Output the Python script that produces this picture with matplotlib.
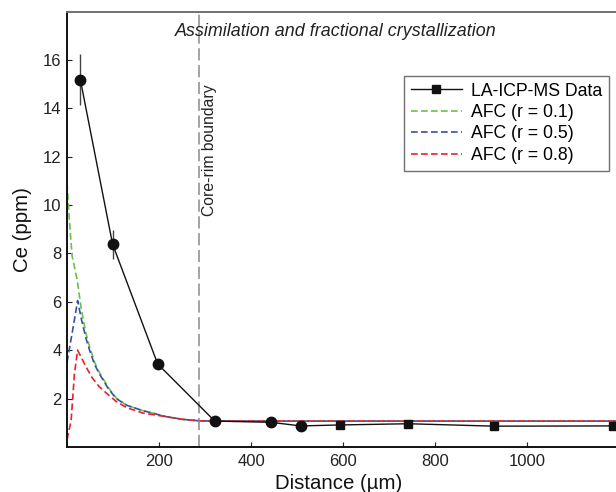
import matplotlib
matplotlib.use("Agg")
import matplotlib.pyplot as plt
from matplotlib.lines import Line2D

plt.rcParams['font.family'] = ['Liberation Sans', 'DejaVu Sans']

# LA-ICP-MS profile: core points (circles) and rim points (squares)
core_dist = [29, 99, 197, 321, 443, 508]
core_ce = [15.17, 8.38, 3.43, 1.07, 1.02, 0.87]
core_err = [1.05, 0.6, 0.0, 0.0, 0.0, 0.0]
rim_dist = [593, 742, 928, 1186]
rim_ce = [0.91, 0.96, 0.86, 0.87]

# AFC model curves
afc_dist = [0, 5, 11, 22, 31, 41, 49, 60, 71, 90, 107, 130, 165, 216, 252, 288, 320, 1200]
afc_r01 = [10.9, 9.4, 7.9, 6.9, 5.7, 4.7, 4.14, 3.5, 3.05, 2.45, 2.02, 1.72, 1.5, 1.25, 1.14, 1.08, 1.07, 1.07]
afc_dist_b = [0, 12, 23, 31, 41, 49, 60, 71, 90, 107, 130, 165, 216, 252, 288, 320, 1200]
afc_r05 = [3.5, 4.8, 6.05, 5.3, 4.5, 4.0, 3.4, 3.0, 2.4, 2.0, 1.72, 1.5, 1.25, 1.14, 1.08, 1.07, 1.07]
afc_dist_r = [0, 9, 16, 23, 31, 41, 55, 70, 90, 107, 130, 165, 216, 252, 288, 320, 1200]
afc_r08 = [0.3, 1.1, 3.0, 4.0, 3.7, 3.32, 2.85, 2.49, 2.15, 1.88, 1.62, 1.4, 1.25, 1.14, 1.08, 1.07, 1.07]

boundary = 287

x_ticks = [200, 400, 600, 800, 1000]
y_ticks = [2, 4, 6, 8, 10, 12, 14, 16]

fig = plt.figure(figsize=(6.16, 4.92), dpi=100)
ax = fig.add_axes([0.1088, 0.0915, 0.8912, 0.8841])

green = '#6cbf4a'
blue = '#3a4fa0'
red = '#e8222e'

ax.plot(afc_dist, afc_r01, color=green, lw=1.2, dashes=(4, 2))
ax.plot(afc_dist_b, afc_r05, color=blue, lw=1.2, dashes=(4, 2))
ax.plot(afc_dist_r, afc_r08, color=red, lw=1.2, dashes=(4, 2))

ax.axvline(boundary, color='#8a8a8a', lw=1.1, dashes=(8, 3))
ax.text(boundary + 22, 12.25, 'Core-rim boundary', rotation=90,
        ha='center', va='center', fontsize=11.3, color='#222222')

all_dist = core_dist + rim_dist
all_ce = core_ce + rim_ce
ax.plot(all_dist, all_ce, color='#111111', lw=1.0, zorder=3)
ax.errorbar(core_dist, core_ce, yerr=core_err, fmt='none', ecolor='#444444',
            elinewidth=1.0, capsize=0, zorder=3)
ax.plot(core_dist, core_ce, 'o', color='#111111', ms=7.5, zorder=4)
ax.plot(rim_dist, rim_ce, 's', color='#111111', ms=6.2, zorder=4)

ax.set_xlim(0, 1193)
ax.set_ylim(0, 17.97)
ax.set_xticks(x_ticks)
ax.set_yticks(y_ticks)
ax.tick_params(direction='in', length=3.6, width=0.8, labelsize=12, colors='#222222')
ax.tick_params(axis='x', pad=5)
ax.tick_params(axis='y', pad=4)

for side in ['left', 'bottom']:
    ax.spines[side].set_linewidth(1.4)
    ax.spines[side].set_color('#111111')
ax.spines['top'].set_linewidth(1.4)
ax.spines['top'].set_color('#707070')
ax.spines['right'].set_visible(False)

ax.set_xlabel('Distance (\u00b5m)', fontsize=14.7, color='#111111')
ax.set_ylabel('Ce (ppm)', fontsize=14.7, color='#111111')
ax.xaxis.set_label_coords(0.495, -0.062)
ax.yaxis.set_label_coords(-0.064, 0.5)

ax.text(0.49, 0.955, 'Assimilation and fractional crystallization',
        transform=ax.transAxes, ha='center', va='center', style='italic',
        fontsize=12.9, color='#222222')

handles = [
    Line2D([], [], color='#111111', lw=1.0, marker='s', ms=5.5),
    Line2D([], [], color=green, lw=1.2, dashes=(4, 2)),
    Line2D([], [], color=blue, lw=1.2, dashes=(4, 2)),
    Line2D([], [], color=red, lw=1.2, dashes=(4, 2)),
]
labels = ['LA-ICP-MS Data', 'AFC (r = 0.1)', 'AFC (r = 0.5)', 'AFC (r = 0.8)']
leg = ax.legend(handles, labels, loc='upper right', bbox_to_anchor=(0.987, 0.854),
                borderaxespad=0, fontsize=12.7, handlelength=2.9, numpoints=1,
                fancybox=False, framealpha=1, edgecolor='#707070',
                labelspacing=0.25, handletextpad=0.5, borderpad=0.4)
leg.get_frame().set_linewidth(1.0)

fig.savefig('out.png', dpi=100)
